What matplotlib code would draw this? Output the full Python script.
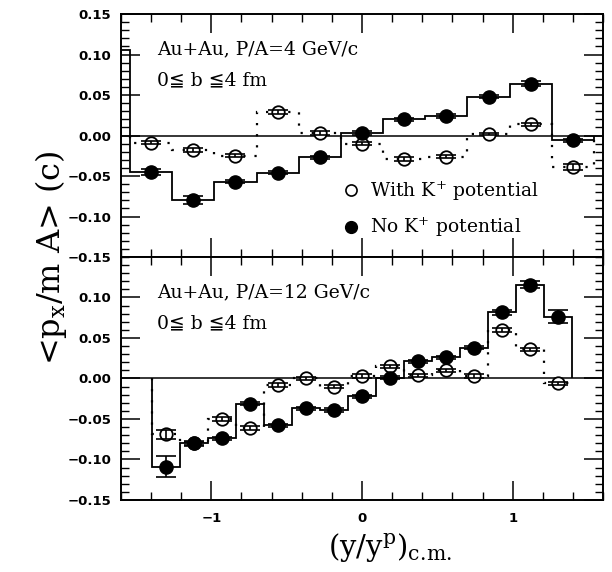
import matplotlib.pyplot as plt
from matplotlib.lines import Line2D
from matplotlib.ticker import MultipleLocator, FuncFormatter

plt.rcParams['mathtext.fontset'] = 'dejavuserif'

# upper panel: P/A = 4 GeV/c, 11 rapidity bins
top_x = [-1.40, -1.12, -0.84, -0.56, -0.28, 0.00, 0.28, 0.56, 0.84, 1.12, 1.40]
top_no = [-0.045, -0.080, -0.057, -0.046, -0.027, 0.003, 0.020, 0.024, 0.048, 0.064, -0.006]
top_no_err = [0.004, 0.005, 0.002, 0.002, 0.002, 0.002, 0.002, 0.002, 0.002, 0.003, 0.002]
top_with = [-0.009, -0.018, -0.025, 0.029, 0.003, -0.010, -0.029, -0.026, 0.002, 0.014, -0.039]
top_with_err = [0.002, 0.002, 0.002, 0.002, 0.002, 0.002, 0.002, 0.002, 0.001, 0.002, 0.004]
top_lead = 0.106  # odd step left of the first bin in the original

# lower panel: P/A = 12 GeV/c, 15 rapidity bins
bot_x = [-1.300, -1.114, -0.929, -0.743, -0.557, -0.371, -0.186, 0.000,
         0.186, 0.371, 0.557, 0.743, 0.929, 1.114, 1.300]
bot_no = [-0.109, -0.080, -0.074, -0.031, -0.058, -0.037, -0.039, -0.022,
          0.001, 0.021, 0.026, 0.038, 0.082, 0.116, 0.076]
bot_no_err = [0.013, 0.003, 0.002, 0.002, 0.002, 0.002, 0.002, 0.002,
              0.002, 0.002, 0.002, 0.002, 0.003, 0.004, 0.008]
bot_with = [-0.069, -0.080, -0.050, -0.061, -0.008, 0.000, -0.010, 0.003,
            0.015, 0.004, 0.010, 0.003, 0.060, 0.036, -0.006]
bot_with_err = [0.006, 0.002, 0.002, 0.002, 0.002, 0.002, 0.002, 0.002,
                0.002, 0.002, 0.002, 0.002, 0.002, 0.002, 0.002]


def edges_of(xs):
    h = (xs[1] - xs[0]) / 2
    return [x - h for x in xs] + [xs[-1] + h]


def fmt(v, pos):
    s = '%.2f' % v
    if s == '-0.00':
        s = '0.00'
    return s.replace('-', '\u2212')


serif = ['DejaVu Serif', 'DejaVu Sans']

fig = plt.figure(figsize=(6.12, 5.72), dpi=100)
ax1 = fig.add_axes([0.1977, 0.5507, 0.7876, 0.4248])
ax2 = fig.add_axes([0.1977, 0.1259, 0.7876, 0.4248])

panels = [
    (ax1, top_x, top_no, top_no_err, top_with, top_with_err,
     'Au+Au, P/A=4 GeV/c'),
    (ax2, bot_x, bot_no, bot_no_err, bot_with, bot_with_err,
     'Au+Au, P/A=12 GeV/c'),
]

for ax, xs, no, no_e, wi, wi_e, title in panels:
    ed = edges_of(xs)
    ax.axhline(0, color='k', lw=1.1)
    if ax is ax1:
        ax.stairs([top_lead] + no, [-1.6] + ed, baseline=0, color='k', lw=1.3)
    else:
        ax.stairs(no, ed, baseline=0, color='k', lw=1.3)
    ax.stairs(wi, ed, baseline=0, color='k', lw=1.6, ls=(0, (1, 4)))

    ax.plot(xs, wi, 'o', ms=9, mfc='white', mec='k', mew=1.3, ls='none')
    ax.errorbar(xs, wi, yerr=wi_e, fmt='none', ecolor='k', elinewidth=1.2,
                capsize=7, capthick=1.2)
    ax.errorbar(xs, no, yerr=no_e, fmt='none', ecolor='k', elinewidth=1.2,
                capsize=7, capthick=1.2)
    ax.plot(xs, no, 'o', ms=9.5, mfc='k', mec='k', ls='none')

    ax.set_xlim(-1.6, 1.6)
    ax.set_ylim(-0.15, 0.15)
    ax.xaxis.set_major_locator(MultipleLocator(1))
    ax.xaxis.set_minor_locator(MultipleLocator(0.2))
    ax.yaxis.set_major_locator(MultipleLocator(0.05))
    ax.yaxis.set_minor_locator(MultipleLocator(0.01))
    ax.yaxis.set_major_formatter(FuncFormatter(fmt))
    ax.tick_params(which='both', direction='in', top=True, right=True)
    ax.tick_params(which='major', length=14, width=1.1)
    ax.tick_params(which='minor', length=6, width=1.0)
    ax.tick_params(axis='y', labelsize=9.5, pad=7)
    ax.tick_params(axis='x', labelsize=9.5, pad=9)
    for sp in ax.spines.values():
        sp.set_linewidth(1.4)

    ax.text(0.075, 0.855, title, transform=ax.transAxes, fontsize=13.5,
            family=serif, va='center', ha='left')
    ax.text(0.075, 0.725, '0\u2266 b \u22664 fm', transform=ax.transAxes,
            fontsize=13.5, family=serif, va='center', ha='left')

ax1.tick_params(axis='x', labelbottom=False)
ax2.set_yticks([-0.15, -0.10, -0.05, 0.00, 0.05, 0.10])
for ax in (ax1, ax2):
    for lab in ax.get_xticklabels() + ax.get_yticklabels():
        lab.set_fontweight('bold')

handles = [
    Line2D([], [], marker='o', ls='none', ms=8, mfc='white', mec='k', mew=1.2),
    Line2D([], [], marker='o', ls='none', ms=8.5, mfc='k', mec='k'),
]
labels = [r'With K$^{+}$ potential', r'No K$^{+}$ potential']
ax1.legend(handles, labels, loc='upper left', bbox_to_anchor=(0.465, 0.32),
           frameon=False, handlelength=0.6, handletextpad=0.75,
           labelspacing=0.7, prop={'family': 'DejaVu Serif', 'size': 13.5},
           borderaxespad=0, borderpad=0)

fig.text(0.083, 0.55, r'<p$_{\mathrm{x}}$/m A> (c)', rotation=90,
         fontsize=23, family=serif, ha='center', va='center')
fig.text(0.638, 0.042, r'$(\mathrm{y/y^p})_{\mathrm{c.\!m.}}$', fontsize=21,
         ha='center', va='center')

fig.savefig('out.png', dpi=100)
